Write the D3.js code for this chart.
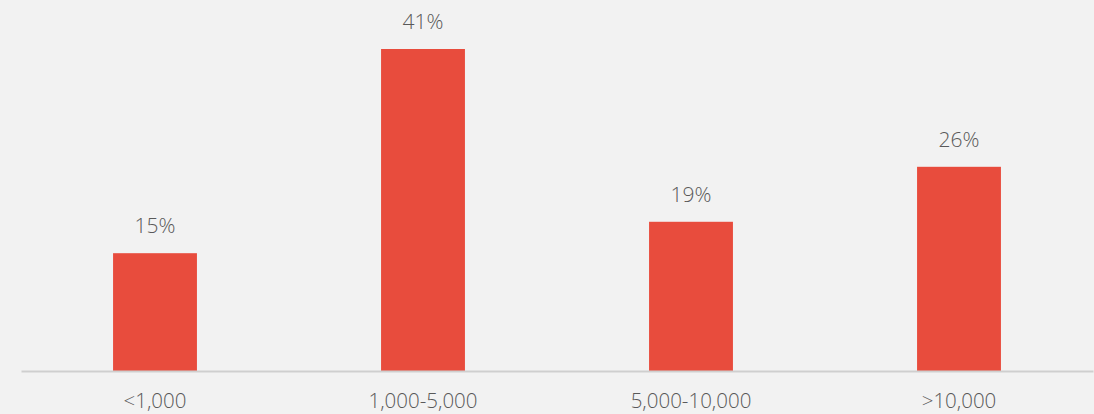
<!DOCTYPE html>
<html>
<head>
<meta charset="utf-8">
<script src="https://cdn.jsdelivr.net/npm/d3@7"></script>
<style>
  html, body { margin: 0; padding: 0; background: #f2f2f2; }
  svg { display: block; }
  text { font-family: "Open Sans", Lato, sans-serif; fill: #595959; }
</style>
</head>
<body>
<div id="chart"></div>
<script>
const categories = ["<1,000", "1,000-5,000", "5,000-10,000", ">10,000"];
const values = [15, 41, 19, 26];

const width = 1094, height = 414;
const margin = { top: 49, right: 1, bottom: 43, left: 21 };

const svg = d3.select("#chart")
  .append("svg")
  .attr("width", width)
  .attr("height", height);

const x = d3.scaleBand()
  .domain(categories)
  .range([margin.left, width - margin.right])
  .paddingInner(0.687)
  .paddingOuter(0.3435);

const y = d3.scaleLinear()
  .domain([0, 41])
  .range([height - margin.bottom, margin.top]);

svg.selectAll(".bar")
  .data(values)
  .enter().append("rect")
  .attr("class", "bar")
  .attr("x", (d, i) => x(categories[i]))
  .attr("y", d => y(d))
  .attr("width", x.bandwidth())
  .attr("height", d => y(0) - y(d))
  .attr("fill", "#e84c3d");

svg.selectAll(".val")
  .data(values)
  .enter().append("text")
  .attr("class", "val")
  .attr("x", (d, i) => x(categories[i]) + x.bandwidth() / 2)
  .attr("y", d => y(d) - 20)
  .attr("text-anchor", "middle")
  .style("font-size", "21px")
  .style("font-weight", 300)
  .text(d => d + "%");

const xAxis = d3.axisBottom(x).tickSize(0).tickPadding(22);

const gx = svg.append("g")
  .attr("transform", `translate(0,${y(0)})`)
  .call(xAxis);

gx.select(".domain").attr("stroke", "#cfcfcf").attr("stroke-width", 2);
gx.selectAll("text")
  .style("font-size", "20.5px")
  .style("font-weight", 300)
  .attr("fill", "#595959");
</script>
</body>
</html>
